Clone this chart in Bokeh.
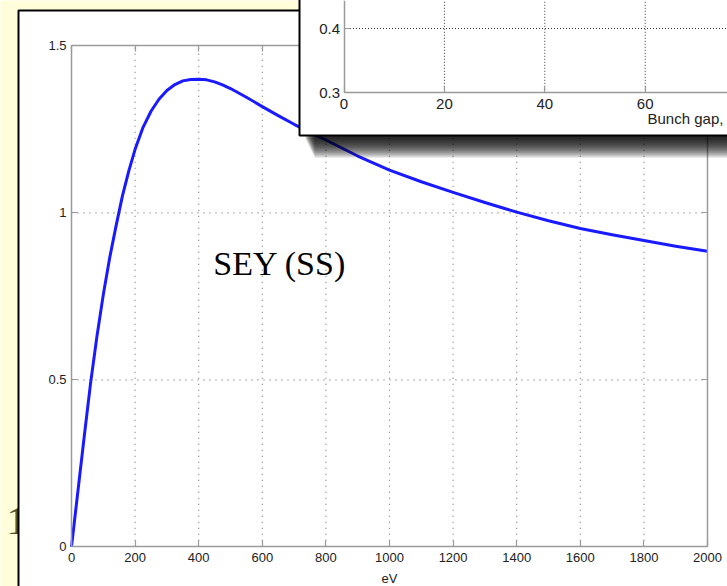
from bokeh.plotting import figure
from bokeh.models import Range1d, LinearAxis, FixedTicker, Label
from bokeh.embed import file_html
from bokeh.resources import INLINE
from bokeh.core.properties import value

# ---------------- data ----------------
energy_ev = [0, 20, 40, 60, 80, 100, 120, 140, 160, 180, 200, 225, 250, 275, 300,
             325, 350, 375, 400, 425, 450, 475, 500, 550, 600, 650, 700, 750, 800,
             900, 1000, 1100, 1200, 1300, 1400, 1500, 1600, 1700, 1800, 1900, 2000]
sey_ss = [0.0, 0.165, 0.33, 0.49, 0.63, 0.755, 0.865, 0.96, 1.05, 1.125, 1.19,
          1.256, 1.304, 1.340, 1.366, 1.384, 1.395, 1.399, 1.400, 1.398, 1.392,
          1.383, 1.372, 1.346, 1.318, 1.291, 1.265, 1.241, 1.218, 1.170, 1.128,
          1.093, 1.061, 1.031, 1.002, 0.976, 0.953, 0.934, 0.917, 0.900, 0.885]

x_ticks = [0, 200, 400, 600, 800, 1000, 1200, 1400, 1600, 1800, 2000]
x_tick_labels = ["0", "200", "400", "600", "800", "1000", "1200", "1400", "1600", "1800", "2000"]
y_ticks = [0, 0.5, 1, 1.5]
y_tick_labels = ["0", "0.5", "1", "1.5"]

inset_x_ticks = [0, 20, 40, 60, 80]
inset_x_tick_labels = ["0", "20", "40", "60", "80"]
inset_y_ticks = [0.3, 0.4, 0.5]
inset_y_tick_labels = ["0.3", "0.4", "0.5"]

main_title = "SEY (SS)"
x_label = "eV"
inset_x_label = "Bunch gap,"
slide_number = "1"

# ---------------- layout (pixels of the 727x586 page) ----------------
W, H = 727, 586
YELLOW = "#FFFDDA"
AXC = "#9a9a9a"


def page_range(p0, v0, p1, v1, lo_px, hi_px):
    k = (v1 - v0) / (p1 - p0)
    return Range1d(start=v0 + (lo_px - p0) * k, end=v0 + (hi_px - p0) * k)


p = figure(width=W, height=H, x_range=Range1d(0, W), y_range=Range1d(H, 0),
           x_axis_type=None, y_axis_type=None, toolbar_location=None,
           output_backend="svg", min_border=0, outline_line_color=None,
           background_fill_color=YELLOW, border_fill_color=YELLOW)

p.extra_x_ranges = {
    "ev": page_range(71, 0, 707, 2000, 0, W),
    "gap": page_range(343.5, 0, 644.7, 60, 0, W),
}
p.extra_y_ranges = {
    "sey": page_range(546.3, 0, 45.3, 1.5, H, 0),
    "ins": page_range(92.3, 0.3, 28, 0.4, H, 0),
}

# slide background text and white panel
p.text(x=[6], y=[520], text=[slide_number], text_font=value("Liberation Serif"),
       text_font_size="40px", text_color="#57522c", text_baseline="alphabetic",
       level="image")
p.quad(left=18, right=W + 20, top=10, bottom=H + 20, fill_color="white",
       line_color="black", line_width=2, level="image")

# main grid
vx = x_ticks[1:-1]
p.segment(x0=vx, y0=[y_ticks[0]] * len(vx), x1=vx, y1=[y_ticks[-1]] * len(vx),
          x_range_name="ev", y_range_name="sey", line_color="#7a7a7a",
          line_dash="1 5", line_width=1.2, level="underlay")
hy = y_ticks[1:-1]
p.segment(x0=[x_ticks[0]] * len(hy), y0=hy, x1=[x_ticks[-1]] * len(hy), y1=hy,
          x_range_name="ev", y_range_name="sey", line_color="#7a7a7a",
          line_dash="1 5", line_width=1.2, level="underlay")

# main curve
p.line(energy_ev, sey_ss, x_range_name="ev", y_range_name="sey",
       line_color="#1a1aff", line_width=3, line_join="round")


def make_axis(xr, yr, loc, ticks, labels, bounds, level="guide", standoff=5,
              size="13px", **kw):
    ax = LinearAxis(x_range_name=xr, y_range_name=yr, fixed_location=loc,
                    ticker=FixedTicker(ticks=ticks), bounds=bounds,
                    major_label_overrides={t: l for t, l in zip(ticks, labels)},
                    axis_line_color=AXC, axis_line_width=1.5,
                    major_tick_line_color=AXC, major_tick_line_width=1.2,
                    major_tick_in=6, major_tick_out=0,
                    minor_tick_line_color=None,
                    major_label_text_font="Liberation Sans",
                    major_label_text_font_size=size,
                    major_label_text_color="#222222",
                    major_label_standoff=standoff,
                    axis_label_text_font="Liberation Sans",
                    axis_label_text_font_size=size,
                    axis_label_text_font_style="normal",
                    axis_label_text_color="#222222",
                    level=level, **kw)
    return ax


p.add_layout(make_axis("ev", "sey", 0, x_ticks, x_tick_labels, (0, 2000), standoff=6,
                       axis_label=x_label, axis_label_standoff=6), "below")
p.add_layout(make_axis("ev", "sey", 0, y_ticks, y_tick_labels, (0, 1.5)), "left")
p.add_layout(make_axis("ev", "sey", 1.5, x_ticks, [""] * len(x_ticks), (0, 2000)), "above")
p.add_layout(make_axis("ev", "sey", 2000, y_ticks, [""] * len(y_ticks), (0, 1.5)), "right")

p.add_layout(Label(x=446, y=0.848, x_range_name="ev", y_range_name="sey",
                   text=main_title, text_font="Liberation Serif",
                   text_font_size="34px", text_color="black",
                   text_baseline="alphabetic"))

# inset: shadow and box
for i in range(10):
    p.quad(left=314 - i, right=W + 40, top=100, bottom=157 - 2 * i,
           fill_color="black", fill_alpha=0.16, line_color=None, level="annotation")
p.quad(left=299, right=W + 20, top=-20, bottom=135, fill_color="white",
       line_color="black", line_width=2, level="annotation")

# inset grid
ivx = inset_x_ticks[1:]
p.segment(x0=ivx, y0=[inset_y_ticks[0]] * len(ivx), x1=ivx, y1=[inset_y_ticks[-1]] * len(ivx),
          x_range_name="gap", y_range_name="ins", line_color="#333333",
          line_dash="1 2", line_width=1, level="overlay")
ihy = inset_y_ticks[1:]
p.segment(x0=[inset_x_ticks[0]] * len(ihy), y0=ihy, x1=[inset_x_ticks[-1]] * len(ihy), y1=ihy,
          x_range_name="gap", y_range_name="ins", line_color="#333333",
          line_dash="1 2", line_width=1, level="overlay")

p.add_layout(make_axis("gap", "ins", 0.3, inset_x_ticks, inset_x_tick_labels, (0, 80),
                       level="overlay", standoff=6, size="15px"), "below")
p.add_layout(make_axis("gap", "ins", 0, inset_y_ticks, inset_y_tick_labels, (0.3, 0.5),
                       level="overlay", standoff=4, size="15px"), "left")
p.add_layout(Label(x=647, y=118, text=inset_x_label, text_font="Liberation Sans",
                   text_font_size="15px", text_color="#222222",
                   text_baseline="alphabetic", level="overlay"))

open("out.html", "w").write(file_html(p, INLINE))
